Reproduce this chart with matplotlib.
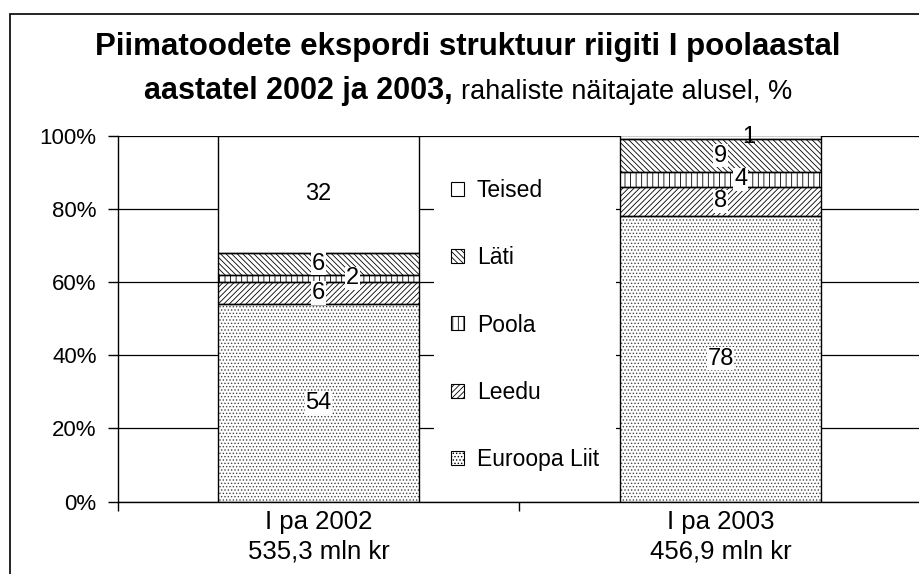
import matplotlib as mpl

mpl.use('Agg')
import matplotlib.pyplot as plt
from matplotlib.patches import Patch, Rectangle
import numpy as np

#### Data ####
categories = ['I pa 2002\n535,3 mln kr', 'I pa 2003\n456,9 mln kr']
series = ['Euroopa Liit', 'Leedu', 'Poola', 'Läti', 'Teised']
euroopa_liit = [54, 78]
leedu = [6, 8]
poola = [2, 4]
lati = [6, 9]
teised = [32, 1]
yticks = [0, 20, 40, 60, 80, 100]

values = [euroopa_liit, leedu, poola, lati, teised]
hatches = ['.....', '//////', '|||', '\\\\\\\\\\\\', '']
hatch_colors = ['#444444', 'black', 'black', 'black', 'black']
# label x shift (in data units) per series and bar, to avoid overlap
label_shift = {('Poola', 0): 0.085, ('Poola', 1): 0.05, ('Teised', 1): 0.07}
label_box = {('Teised', 1): False}

plt.rcParams['font.family'] = ['Liberation Sans', 'DejaVu Sans']
plt.rcParams['hatch.linewidth'] = 0.6

fig = plt.figure(figsize=(9.2, 5.74), dpi=100)
ax = fig.add_axes([117.5 / 920, (574 - 501.5) / 574, 804 / 920, 366 / 574])

x = np.arange(len(categories))
width = 0.5
bottom = np.zeros(len(categories))
for name, vals, hatch, hc in zip(series, values, hatches, hatch_colors):
    vals = np.array(vals, dtype=float)
    ax.bar(x, vals, width, bottom=bottom, facecolor='white', edgecolor=hc,
           hatch=hatch, linewidth=0, zorder=3)
    ax.bar(x, vals, width, bottom=bottom, fill=False, edgecolor='black',
           linewidth=1.0, zorder=4)
    for i, v in enumerate(vals):
        dx = label_shift.get((name, i), 0)
        box = dict(facecolor='white', edgecolor='none', pad=0.5) \
            if label_box.get((name, i), True) else None
        ax.text(x[i] + dx, bottom[i] + v / 2, '%d' % v, ha='center',
                va='center', fontsize=17, bbox=box, zorder=5)
    bottom += vals

ax.set_xlim(-0.5, 1.5)
ax.set_ylim(0, 100)
ax.set_yticks(yticks)
ax.set_yticklabels(['%d%%' % t for t in yticks], fontsize=16)
ax.set_xticks(x)
ax.set_xticklabels(categories, fontsize=18.5, linespacing=1.32)
ax.set_xticks([-0.5, 0.5, 1.5], minor=True)
ax.tick_params(axis='x', which='major', length=0, pad=6)
ax.tick_params(axis='x', which='minor', length=6.5, direction='out',
               width=1)
ax.tick_params(axis='y', length=7, width=1, direction='out', pad=8)
ax.yaxis.grid(True, color='black', linewidth=0.9, zorder=0)
ax.set_axisbelow(True)
for s in ['top', 'right']:
    ax.spines[s].set_visible(False)
ax.spines['left'].set_linewidth(1)
ax.spines['bottom'].set_linewidth(1)
ax.spines['bottom'].set_zorder(6)

# legend (reversed order)
handles = [Patch(facecolor='white', edgecolor='black', hatch=h, linewidth=0.8,
                 label=n) for n, h in zip(series, hatches)][::-1]
leg = ax.legend(handles=handles, loc='center', fontsize=16.5,
                bbox_to_anchor=(525 / 920, (574 - 325) / 574),
                bbox_transform=fig.transFigure, frameon=True,
                handlelength=0.57, handleheight=0.57, handletextpad=0.57,
                labelspacing=1.93, borderpad=0.75, borderaxespad=0)
leg.get_frame().set_facecolor('white')
leg.get_frame().set_edgecolor('none')
leg.get_frame().set_alpha(1)
leg.set_zorder(2.5)

# title
fig.text(468 / 920, 1 - 55 / 574,
         'Piimatoodete ekspordi struktuur riigiti I poolaastal',
         ha='center', va='baseline', fontsize=22.5, fontweight='bold')
fig.text(453 / 920, 1 - 99 / 574, 'aastatel 2002 ja 2003,', ha='right',
         va='baseline', fontsize=22, fontweight='bold')
fig.text(461 / 920, 1 - 99 / 574, 'rahaliste näitajate alusel, %', ha='left',
         va='baseline', fontsize=19.5)

# outer frame
fig.patches.append(Rectangle((10 / 920, -0.1), 1.1, 1 - 14 / 574 + 0.1,
                             transform=fig.transFigure, fill=False,
                             edgecolor='black', linewidth=1.2))

fig.savefig('out.png', dpi=100)
